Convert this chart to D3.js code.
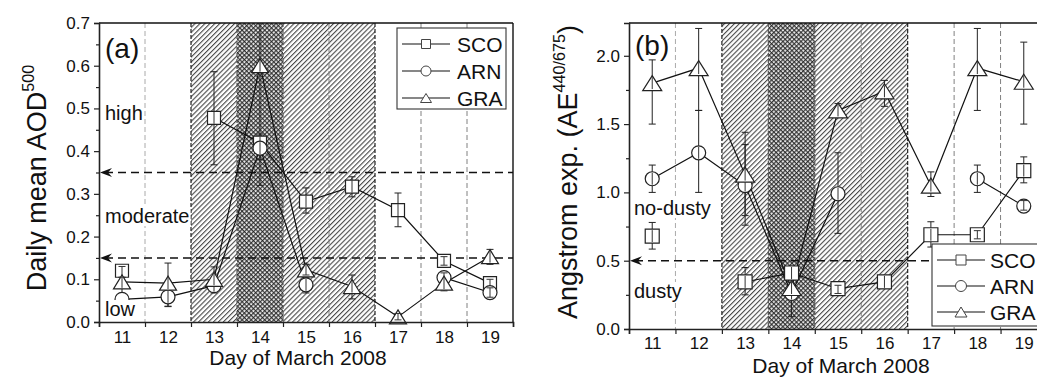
<!DOCTYPE html>
<html>
<head>
<meta charset="utf-8">
<script src="https://cdn.jsdelivr.net/npm/d3@7"></script>
<style>
  html, body { margin: 0; padding: 0; background: #fff; }
  svg { display: block; font-family: "Liberation Sans", Arial, sans-serif; }
</style>
</head>
<body>
<svg id="chart" width="1037" height="378"></svg>
<script>
// Days of March 2008
const days = [11, 12, 13, 14, 15, 16, 17, 18, 19];
const stations = ["SCO", "ARN", "GRA"];

// Panel (a): daily mean AOD at 500 nm, with error-bar bounds
const aodSCO   = [0.12, null, 0.478, 0.42, 0.282, 0.317, 0.262, 0.143, 0.091];
const aodSCOLo = [0.105, null, 0.368, 0.40, 0.255, 0.293, 0.223, 0.133, 0.08];
const aodSCOHi = [0.13, null, 0.586, 0.44, 0.314, 0.34, 0.302, 0.153, 0.10];
const aodARN   = [0.053, 0.059, 0.085, 0.407, 0.087, null, null, 0.104, 0.069];
const aodARNLo = [null, 0.037, 0.068, 0.38, 0.068, null, null, 0.093, 0.058];
const aodARNHi = [null, 0.08, 0.10, 0.434, 0.105, null, null, 0.115, 0.08];
const aodGRA   = [0.094, 0.091, 0.10, 0.60, 0.122, 0.083, 0.012, 0.091, 0.153];
const aodGRALo = [0.065, 0.036, 0.075, 0.32, 0.11, 0.054, 0.005, 0.073, 0.135];
const aodGRAHi = [0.105, 0.138, 0.129, 0.88, 0.135, 0.11, 0.02, 0.11, 0.17];

// Panel (b): Angstrom exponent 440/675, with error-bar bounds
const aeSCO   = [0.68, null, 0.345, 0.41, 0.295, 0.345, 0.69, 0.69, 1.16];
const aeSCOLo = [0.585, null, 0.25, 0.36, 0.26, 0.30, 0.60, 0.66, 1.07];
const aeSCOHi = [0.78, null, 0.45, 0.46, 0.32, 0.39, 0.785, 0.72, 1.26];
const aeARN   = [1.10, 1.29, 1.05, 0.26, 0.99, null, null, 1.10, 0.90];
const aeARNLo = [1.0, 1.0, 0.76, 0.09, 0.70, null, null, 1.0, 0.87];
const aeARNHi = [1.2, 1.6, 1.35, 0.40, 1.29, null, null, 1.2, 0.94];
const aeGRA   = [1.80, 1.91, 1.13, 0.30, 1.60, 1.74, 1.05, 1.91, 1.81];
const aeGRALo = [1.5, 1.6, 0.83, 0.22, 1.55, 1.63, 0.97, 1.6, 1.5];
const aeGRAHi = [1.97, 2.2, 1.44, 0.38, 1.65, 1.82, 1.15, 2.2, 2.1];

// Tick values
const aodTicks = [0, 0.1, 0.2, 0.3, 0.4, 0.5, 0.6, 0.7];
const aodMinor = [0.05, 0.15, 0.25, 0.35, 0.45, 0.55, 0.65];
const aeTicks = [0, 0.5, 1.0, 1.5, 2.0];
const aeMinor = [0.25, 0.75, 1.25, 1.75];
const dayBounds = [10.5, 11.5, 12.5, 13.5, 14.5, 15.5, 16.5, 17.5, 18.5, 19.5];

// Dust episode shading: hatched span and its densest day
const dustSpan = [12.5, 16.5];
const dustPeak = [13.5, 14.5];
const grayDividers = [11.5, 15.5, 17.5, 18.5];

// Thresholds
const aodLevels = [0.35, 0.15];
const aeLevels = [0.5];

const svg = d3.select("#chart");
const FONT = '"Liberation Sans", Arial, sans-serif';

// Hatch patterns
const defs = svg.append("defs");
const HS = 3.5;
const hatch = defs.append("pattern").attr("id", "hatch")
  .attr("patternUnits", "userSpaceOnUse").attr("width", HS).attr("height", HS)
  .attr("patternTransform", "rotate(45)");
hatch.append("rect").attr("width", HS).attr("height", HS).attr("fill", "#fff");
hatch.append("line").attr("x1", 0.6).attr("y1", 0).attr("x2", 0.6).attr("y2", HS)
  .attr("stroke", "#2a2a2a").attr("stroke-width", 0.95);

const CS = 3.2;
const cross = defs.append("pattern").attr("id", "cross")
  .attr("patternUnits", "userSpaceOnUse").attr("width", CS).attr("height", CS)
  .attr("patternTransform", "rotate(45)");
cross.append("rect").attr("width", CS).attr("height", CS).attr("fill", "#e6e6e6");
cross.append("line").attr("x1", 0.6).attr("y1", 0).attr("x2", 0.6).attr("y2", CS)
  .attr("stroke", "#222").attr("stroke-width", 1.0);
cross.append("line").attr("x1", 0).attr("y1", 0.6).attr("x2", CS).attr("y2", 0.6)
  .attr("stroke", "#222").attr("stroke-width", 1.0);

function markerPath(kind, s) {
  if (kind === "SCO") {
    const h = s.sq / 2;
    return `M${-h},${-h}H${h}V${h}H${-h}Z`;
  }
  if (kind === "ARN") {
    const r = s.r;
    return `M${r},0A${r},${r} 0 1,1 ${-r},0A${r},${r} 0 1,1 ${r},0Z`;
  }
  const w = s.tw / 2, h = s.th / 2;
  return `M0,${-h}L${w},${h}L${-w},${h}Z`;
}

function panel(cfg) {
  const { id, left, right, top, bottom, yMax, series, ticks, minor, fmt } = cfg;
  const x = d3.scaleLinear().domain([10.5, 19.5]).range([left, right]);
  const y = d3.scaleLinear().domain([0, yMax]).range([bottom, top]);
  const g = svg.append("g");

  const clipId = "clip-" + id;
  defs.append("clipPath").attr("id", clipId).append("rect")
    .attr("x", left).attr("y", top).attr("width", right - left).attr("height", bottom - top);

  // Shaded dust period
  g.append("rect").attr("x", x(dustSpan[0])).attr("y", top)
    .attr("width", x(dustSpan[1]) - x(dustSpan[0])).attr("height", bottom - top)
    .attr("fill", "url(#hatch)");
  g.append("rect").attr("x", x(dustPeak[0])).attr("y", top)
    .attr("width", x(dustPeak[1]) - x(dustPeak[0])).attr("height", bottom - top)
    .attr("fill", "url(#cross)");

  // Vertical day dividers
  g.selectAll(".gdiv").data(grayDividers).join("line")
    .attr("x1", d => x(d)).attr("x2", d => x(d)).attr("y1", top).attr("y2", bottom)
    .attr("stroke", d => d === 11.5 ? "#aaa" : "#808080").attr("stroke-width", 1)
    .attr("stroke-dasharray", "5,3");
  g.selectAll(".bdiv").data([dustSpan[0], dustPeak[0], dustPeak[1], dustSpan[1]]).join("line")
    .attr("x1", d => x(d)).attr("x2", d => x(d)).attr("y1", top).attr("y2", bottom)
    .attr("stroke", d => (d === dustSpan[0] || d === dustSpan[1]) ? "#222" : "#555")
    .attr("stroke-width", 1.2).attr("stroke-dasharray", "4,2");

  // Threshold lines with arrows at the axis
  cfg.levels.forEach(v => {
    const yy = y(v);
    g.append("line").attr("x1", left + 6).attr("x2", right).attr("y1", yy).attr("y2", yy)
      .attr("stroke", "#111").attr("stroke-width", 1.6).attr("stroke-dasharray", "8,5");
    g.append("path")
      .attr("d", `M${left + 1},${yy}L${left + 13},${yy - 4.5}L${left + 9},${yy}L${left + 13},${yy + 4.5}Z`)
      .attr("fill", "#111");
  });

  const plot = g.append("g").attr("clip-path", `url(#${clipId})`);

  // Series lines
  series.forEach(s => {
    const line = d3.line().defined(d => d[1] != null)
      .x(d => x(d[0])).y(d => y(d[1]));
    plot.append("path").datum(days.map((d, i) => [d, s.v[i]]))
      .attr("d", line).attr("fill", "none").attr("stroke", "#111").attr("stroke-width", 1.2);
  });

  // Error bars
  series.forEach(s => {
    days.forEach((d, i) => {
      if (s.v[i] == null || s.lo[i] == null) return;
      const xx = x(d);
      const eg = plot.append("g").attr("stroke", "#222").attr("stroke-width", 1);
      eg.append("line").attr("x1", xx).attr("x2", xx).attr("y1", y(s.lo[i])).attr("y2", y(s.hi[i]));
      eg.append("line").attr("x1", xx - 3.5).attr("x2", xx + 3.5).attr("y1", y(s.lo[i])).attr("y2", y(s.lo[i]));
      eg.append("line").attr("x1", xx - 3.5).attr("x2", xx + 3.5).attr("y1", y(s.hi[i])).attr("y2", y(s.hi[i]));
    });
  });

  // Markers (white filled, error bars show through as thin marks)
  series.forEach(s => {
    days.forEach((d, i) => {
      if (s.v[i] == null) return;
      const xx = x(d), yy = y(s.v[i]);
      g.append("path").attr("d", markerPath(s.name, cfg.sizes))
        .attr("transform", `translate(${xx},${yy})`)
        .attr("fill", "#fff").attr("stroke", "#222").attr("stroke-width", 1.2);
      if (s.lo[i] != null) {
        const eg = g.append("g").attr("stroke", "#333").attr("stroke-width", 1);
        const lo = Math.min(y(s.lo[i]), yy + cfg.sizes.r - 1);
        const hi = Math.max(y(s.hi[i]), yy - cfg.sizes.r + 1);
        eg.append("line").attr("x1", xx).attr("x2", xx).attr("y1", lo).attr("y2", hi);
        if (y(s.lo[i]) < yy + cfg.sizes.r - 1)
          eg.append("line").attr("x1", xx - 3.5).attr("x2", xx + 3.5).attr("y1", y(s.lo[i])).attr("y2", y(s.lo[i]));
        if (y(s.hi[i]) > yy - cfg.sizes.r + 1)
          eg.append("line").attr("x1", xx - 3.5).attr("x2", xx + 3.5).attr("y1", y(s.hi[i])).attr("y2", y(s.hi[i]));
      }
    });
  });

  // Region labels with white background
  cfg.labels.forEach(l => {
    const t = g.append("text").attr("x", l.x).attr("y", l.y)
      .attr("font-family", FONT).attr("font-size", 20).attr("fill", "#111").text(l.text);
    const b = t.node().getBBox();
    g.insert("rect", () => t.node()).attr("x", b.x - 1).attr("y", b.y + 2)
      .attr("width", b.width + 2).attr("height", b.height - 3).attr("fill", "#fff");
  });

  // Panel letter
  g.append("text").attr("x", cfg.letter.x).attr("y", cfg.letter.y)
    .attr("font-family", FONT).attr("font-size", 28).attr("fill", "#111").text(cfg.letter.text);

  // Frame
  g.append("line").attr("x1", left).attr("x2", right).attr("y1", top).attr("y2", top)
    .attr("stroke", "#111").attr("stroke-width", 1.4);
  g.append("line").attr("x1", right).attr("x2", right).attr("y1", top).attr("y2", bottom)
    .attr("stroke", "#111").attr("stroke-width", 1.4);

  // Axes
  g.append("g").attr("transform", `translate(${left},0)`)
    .call(d3.axisLeft(y).tickValues(ticks).tickSize(5).tickPadding(4).tickFormat(d3.format(fmt)));
  g.append("g").attr("transform", `translate(${left},0)`)
    .call(d3.axisLeft(y).tickValues(minor).tickSize(3).tickFormat(""))
    .call(a => a.select(".domain").remove());
  g.append("g").attr("transform", `translate(0,${bottom})`)
    .call(d3.axisBottom(x).tickValues(dayBounds).tickSize(5).tickFormat(""));
  g.append("g").attr("transform", `translate(0,${bottom})`)
    .call(d3.axisBottom(x).tickValues(days).tickSize(0).tickPadding(cfg.xPad).tickFormat(d3.format("d")))
    .call(a => a.select(".domain").remove());

  g.selectAll(".tick text").attr("font-family", FONT).attr("font-size", 17).attr("fill", "#111");
  g.selectAll(".domain").attr("stroke", "#222").attr("stroke-width", 1.6);
  g.selectAll(".tick line").attr("stroke", "#222").attr("stroke-width", 1.2);

  // Legend
  const lg = g.append("g");
  const L = cfg.legend;
  lg.append("rect").attr("x", L.x).attr("y", L.y).attr("width", L.w).attr("height", L.h)
    .attr("fill", "#fff").attr("stroke", "#333").attr("stroke-width", 1.1);
  stations.forEach((name, i) => {
    const yy = L.y + L.first + i * L.step;
    lg.append("line").attr("x1", L.x + 5).attr("x2", L.x + 5 + L.len).attr("y1", yy).attr("y2", yy)
      .attr("stroke", "#111").attr("stroke-width", 1.2);
    lg.append("path").attr("d", markerPath(name, L.sizes))
      .attr("transform", `translate(${L.x + 5 + L.len / 2},${yy})`)
      .attr("fill", "#fff").attr("stroke", "#444").attr("stroke-width", 1);
    lg.append("text").attr("x", L.x + L.len + L.gap).attr("y", yy + 7.5)
      .attr("font-family", FONT).attr("font-size", 21).attr("fill", "#111").text(name);
  });

  // Axis titles
  g.append("text").attr("x", cfg.xTitle.x).attr("y", cfg.xTitle.y).attr("text-anchor", "middle")
    .attr("font-family", FONT).attr("font-size", 21).attr("fill", "#111").text("Day of March 2008");
  const yt = g.append("text")
    .attr("transform", `translate(${cfg.yTitle.x},${cfg.yTitle.y}) rotate(-90)`)
    .attr("text-anchor", "middle").attr("font-family", FONT)
    .attr("font-size", cfg.yTitle.size).attr("fill", "#111");
  yt.append("tspan").text(cfg.yTitle.main);
  yt.append("tspan").attr("font-size", cfg.yTitle.size * 0.6).attr("dy", -cfg.yTitle.size * 0.45)
    .text(cfg.yTitle.sup);
  if (cfg.yTitle.tail)
    yt.append("tspan").attr("dy", cfg.yTitle.size * 0.45).text(cfg.yTitle.tail);
}

panel({
  id: "a", left: 99, right: 513, top: 23, bottom: 322, yMax: 0.7,
  ticks: aodTicks, minor: aodMinor, fmt: ".1f", xPad: 9,
  levels: aodLevels,
  sizes: { sq: 13, r: 7, tw: 17, th: 14 },
  series: [
    { name: "SCO", v: aodSCO, lo: aodSCOLo, hi: aodSCOHi },
    { name: "ARN", v: aodARN, lo: aodARNLo, hi: aodARNHi },
    { name: "GRA", v: aodGRA, lo: aodGRALo, hi: aodGRAHi }
  ],
  labels: [
    { text: "high", x: 105, y: 120 },
    { text: "moderate", x: 105, y: 223 },
    { text: "low", x: 105, y: 316 }
  ],
  letter: { text: "(a)", x: 105, y: 58 },
  legend: { x: 397, y: 28, w: 109, h: 81, first: 16, step: 27, len: 48, gap: 12,
            sizes: { sq: 9, r: 5, tw: 11, th: 9 } },
  xTitle: { x: 298, y: 365 },
  yTitle: { x: 46, y: 178, size: 27, main: "Daily mean AOD", sup: "500" }
});

panel({
  id: "b", left: 629, right: 1047, top: 23, bottom: 329, yMax: 2.24,
  ticks: aeTicks, minor: aeMinor, fmt: ".1f", xPad: 8,
  levels: aeLevels,
  sizes: { sq: 14, r: 7, tw: 19, th: 15 },
  series: [
    { name: "SCO", v: aeSCO, lo: aeSCOLo, hi: aeSCOHi },
    { name: "ARN", v: aeARN, lo: aeARNLo, hi: aeARNHi },
    { name: "GRA", v: aeGRA, lo: aeGRALo, hi: aeGRAHi }
  ],
  labels: [
    { text: "no-dusty", x: 634, y: 215 },
    { text: "dusty", x: 634, y: 298 }
  ],
  letter: { text: "(b)", x: 635, y: 55 },
  legend: { x: 932, y: 244, w: 120, h: 82, first: 16, step: 26, len: 48, gap: 10,
            sizes: { sq: 10, r: 5.5, tw: 12, th: 10 } },
  xTitle: { x: 841, y: 373 },
  yTitle: { x: 577, y: 172, size: 27, main: "Angstrom exp. (AE", sup: "440/675", tail: ")" }
});
</script>
</body>
</html>
